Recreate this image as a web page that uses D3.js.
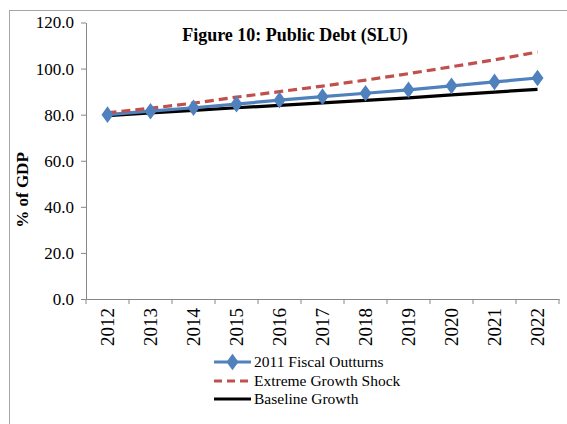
<!DOCTYPE html>
<html><head><meta charset="utf-8">
<script src="https://cdn.jsdelivr.net/npm/d3@7"></script>
<style>body{margin:0;background:#fff}svg{display:block}</style>
</head><body><div id="chart"></div>
<script>
const years = ["2012","2013","2014","2015","2016","2017","2018","2019","2020","2021","2022"];
const fiscalOutturns = [80.0, 81.5, 83.0, 84.6, 86.3, 87.8, 89.3, 90.8, 92.5, 94.2, 95.9];
const extremeShock = [80.8, 82.8, 85.0, 87.6, 90.0, 92.4, 95.0, 97.8, 100.8, 103.8, 107.2];
const baseline = [79.6, 80.8, 81.9, 83.0, 84.0, 85.1, 86.2, 87.3, 88.6, 89.8, 91.0];
const yTicks = [0, 20, 40, 60, 80, 100, 120];
const seriesNames = ["2011 Fiscal Outturns", "Extreme Growth Shock", "Baseline Growth"];

const W = 567, H = 424;
const svg = d3.select("#chart").append("svg").attr("width", W).attr("height", H);
const font = "'Liberation Serif','Times New Roman',serif";

svg.append("rect").attr("x", 9.5).attr("y", 10.5).attr("width", 600).attr("height", 500)
  .attr("fill", "none").attr("stroke", "#a6a6a6").attr("stroke-width", 1);

const pLeft = 86, pRight = 559, pTop = 22.5, pBottom = 299;
const x = d3.scaleBand().domain(years).range([pLeft, pRight]);
const y = d3.scaleLinear().domain([0, 120]).range([pBottom, pTop]);

// y axis
const ya = svg.append("g").attr("transform", `translate(${pLeft},0)`)
  .call(d3.axisLeft(y).tickValues(yTicks).tickFormat(d3.format(".1f")).tickSize(5).tickSizeOuter(0));
ya.select(".domain").attr("stroke", "#868686");
ya.selectAll(".tick line").attr("stroke", "#868686");
ya.selectAll(".tick text").attr("font-family", font).attr("font-size", 17).attr("fill", "#000").attr("x", -12);

// x axis
const xa = svg.append("g").attr("transform", `translate(0,${pBottom})`)
  .call(d3.axisBottom(x).tickSize(0).tickSizeOuter(0));
xa.select(".domain").attr("stroke", "#868686");
xa.selectAll(".tick text").attr("font-family", font).attr("font-size", 19).attr("fill", "#000")
  .attr("transform", "rotate(-90)").attr("text-anchor", "end").attr("x", -9).attr("y", 0).attr("dy", "0.35em");
const bounds = years.map(d => x(d)).concat([pRight]);
svg.append("g").selectAll("line").data(bounds).join("line")
  .attr("x1", d => d).attr("x2", d => d).attr("y1", pBottom).attr("y2", pBottom + 5)
  .attr("stroke", "#868686");

const cx = d => x(d) + x.bandwidth() / 2;
const line = d3.line().x((d, i) => cx(years[i])).y(d => y(d));

svg.append("path").datum(baseline).attr("d", line).attr("fill", "none")
  .attr("stroke", "#000").attr("stroke-width", 3.2);
svg.append("path").datum(fiscalOutturns).attr("d", line).attr("fill", "none")
  .attr("stroke", "#4f81bd").attr("stroke-width", 3.2);
svg.append("path").datum(extremeShock).attr("d", line).attr("fill", "none")
  .attr("stroke", "#c0504d").attr("stroke-width", 3.2).attr("stroke-dasharray", "9,5");

const diamond = d3.symbol().type(d3.symbolDiamond).size(80);
svg.append("g").selectAll("path").data(fiscalOutturns).join("path")
  .attr("d", diamond).attr("transform", (d, i) => `translate(${cx(years[i])},${y(d)}) scale(1.25,1)`)
  .attr("fill", "#4f81bd");

// title
svg.append("text").attr("x", 295).attr("y", 41).attr("text-anchor", "middle")
  .attr("font-family", font).attr("font-size", 18).attr("font-weight", "bold")
  .text("Figure 10: Public Debt (SLU)");

// y label
svg.append("text").attr("transform", "translate(28,190) rotate(-90)").attr("text-anchor", "middle")
  .attr("font-family", font).attr("font-size", 17).attr("font-weight", "bold")
  .text("% of GDP");

// legend
const lg = svg.append("g");
const rows = [362, 381, 399];
const styles = [
  {stroke: "#4f81bd", dash: null, marker: true},
  {stroke: "#c0504d", dash: "8,5", marker: false},
  {stroke: "#000", dash: null, marker: false}
];
seriesNames.forEach((name, i) => {
  const yy = rows[i];
  lg.append("line").attr("x1", 214).attr("x2", 251).attr("y1", yy).attr("y2", yy)
    .attr("stroke", styles[i].stroke).attr("stroke-width", 3)
    .attr("stroke-dasharray", styles[i].dash);
  if (styles[i].marker) {
    lg.append("path").attr("d", diamond).attr("transform", `translate(232.5,${yy}) scale(1.25,1)`)
      .attr("fill", styles[i].stroke);
  }
  lg.append("text").attr("x", 254).attr("y", yy).attr("dy", "0.35em")
    .attr("font-family", font).attr("font-size", 15.5).text(name);
});
</script>
</body></html>
